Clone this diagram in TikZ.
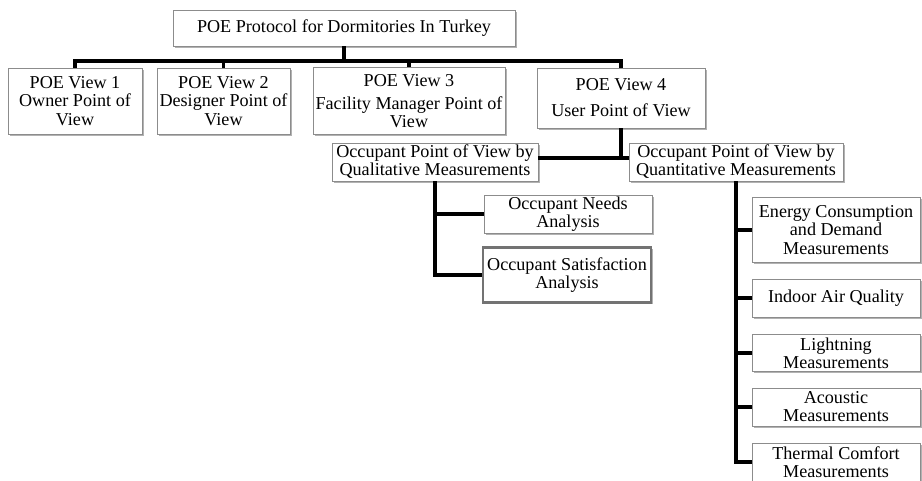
\documentclass[tikz,border=0pt]{standalone}
\usepackage{fontspec}
\setmainfont{Liberation Serif}
\usetikzlibrary{shadows}

\begin{document}
\begin{tikzpicture}[x=0.75pt, y=-0.75pt,
    box/.style={draw=black!45, line width=0.7pt, fill=white, align=center,
        inner sep=1pt, font=\fontsize{13.6}{13.6}\selectfont,
        drop shadow={shadow xshift=1.2pt, shadow yshift=-1.2pt, fill=black, opacity=0.3}},
    wire/.style={line width=2.8pt, black}]
    \useasboundingbox (0,0) rectangle (922,480);
    \clip (0,0) rectangle (922,480);
    \def\px{0.75pt}
    \def\colw{168}

    % top level
    \node[box, minimum width=342*\px, minimum height=36*\px] (protocol) at (344,28)
        {POE Protocol for Dormitories In Turkey};
    \node[box, minimum width=134*\px, minimum height=66*\px] (view1) at (75,101)
        {POE View 1\\Owner Point of\\View};
    \node[box, minimum width=133*\px, minimum height=66*\px] (view2) at (223.5,101)
        {POE View 2\\Designer Point of\\View};
    \node[box, minimum width=192*\px, minimum height=67*\px] (view3) at (409,101)
        {POE View 3\\[4pt]Facility Manager Point of\\View};
    \node[box, minimum width=168*\px, minimum height=60*\px] (view4) at (621,98)
        {POE View 4\\[6pt]User Point of View};

    % occupant branches
    \node[box, minimum width=206*\px, minimum height=38*\px] (qual) at (435,162)
        {Occupant Point of View by\\Qualitative Measurements};
    \node[box, minimum width=214*\px, minimum height=38*\px] (quant) at (736,162)
        {Occupant Point of View by\\Quantitative Measurements};
    \node[box, minimum width=168*\px, minimum height=38*\px] (needs) at (568,214)
        {Occupant Needs\\Analysis};
    \node[box, draw=black!55, line width=2.2pt, minimum width=168*\px, minimum height=55*\px] (satis) at (567,275)
        {Occupant Satisfaction\\Analysis};

    % quantitative measurements
    \node[box, minimum width=\colw*\px, minimum height=65*\px] (energy) at (836,230)
        {Energy Consumption\\and Demand\\Measurements};
    \node[box, minimum width=\colw*\px, minimum height=38*\px] (air) at (836,298)
        {Indoor Air Quality};
    \node[box, minimum width=\colw*\px, minimum height=37*\px] (light) at (836,353)
        {Lightning\\Measurements};
    \node[box, minimum width=\colw*\px, minimum height=38*\px] (acoustic) at (836,407)
        {Acoustic\\Measurements};
    \node[box, minimum width=\colw*\px, minimum height=38*\px] (thermal) at (836,462)
        {Thermal Comfort\\Measurements};

    \coordinate (bus) at (344,61);
    \coordinate (split) at (621,158);

    \draw[wire] (protocol.south) -- (bus);
    \foreach \v in {view1,view2,view3,view4}
        \draw[wire] (bus) -| (\v.north);
    \draw[wire] (view4.south) -- (split);
    \draw[wire] (qual.east |- split) -- (quant.west |- split);
    \foreach \c in {needs,satis}
        \draw[wire] (qual.south) |- (\c.west);
    \foreach \c in {energy,air,light,acoustic,thermal}
        \draw[wire] (quant.south) |- (\c.west);
\end{tikzpicture}
\end{document}
